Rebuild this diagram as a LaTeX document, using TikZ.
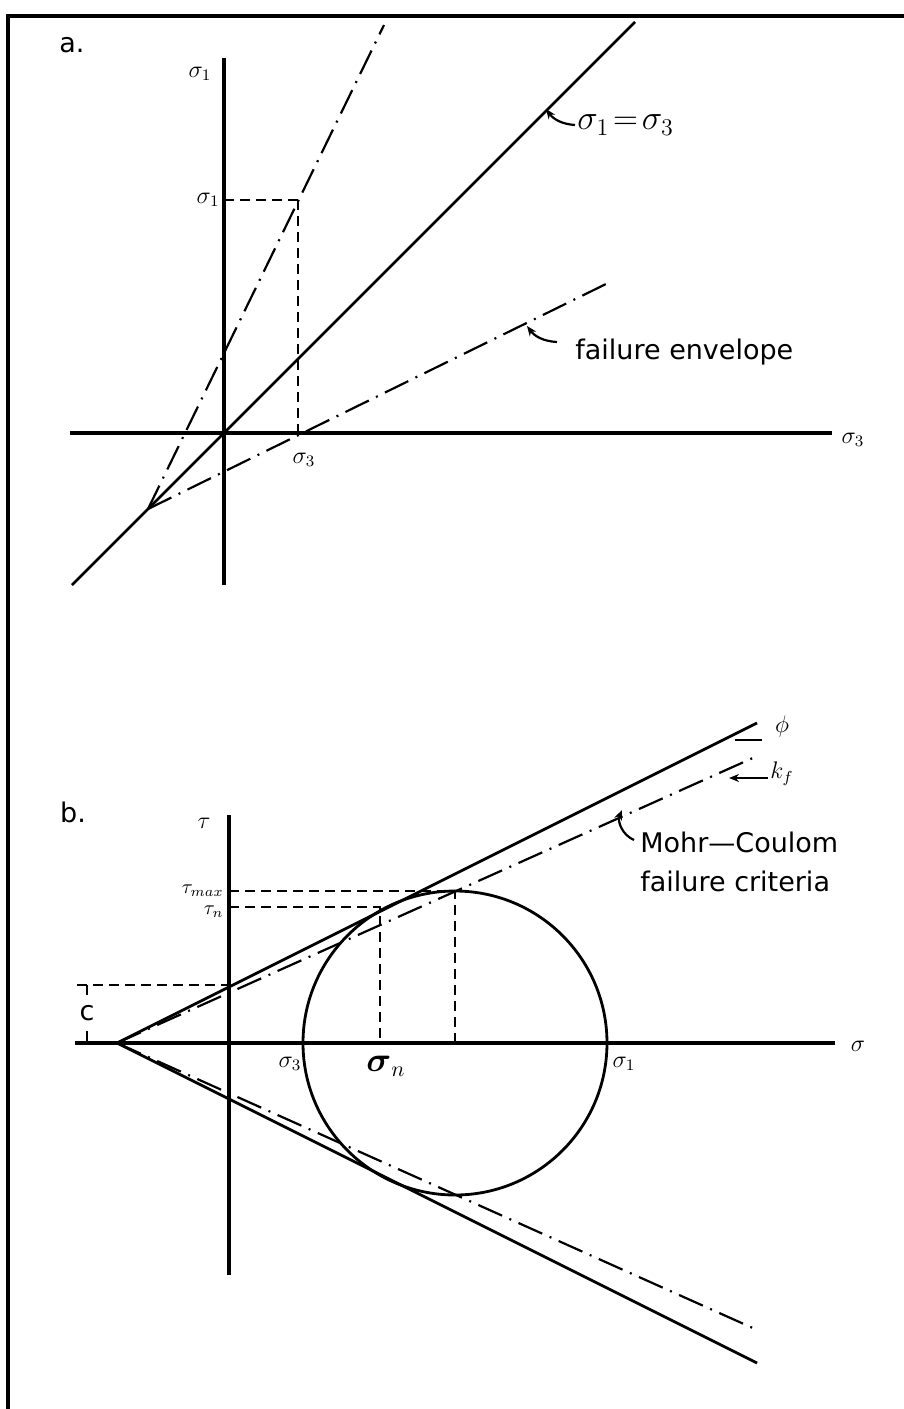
\documentclass[tikz,border=0pt]{standalone}
\usepackage{fontspec}
\setmainfont{DejaVu Sans}
\usepackage{amsmath,amssymb}
\usetikzlibrary{arrows.meta,positioning,calc}
\tikzset{
  axisln/.style={line width=1.8pt},
  envln/.style={line width=1.4pt},
  chainln/.style={line width=1.1pt,dash pattern=on 13pt off 4pt on 1pt off 4pt},
  guideln/.style={line width=1.1pt,dash pattern=on 5pt off 3pt},
  lbl/.style={inner sep=1pt,font=\fontsize{13.5}{19.5}\selectfont},
  sym/.style={inner sep=1pt,font=\fontsize{12}{14}\selectfont},
  ptr/.style={-{Stealth[length=5pt,width=4pt]},line width=1.1pt},
}

\begin{document}
\begin{tikzpicture}[x=0.5pt,y=-0.5pt]
    \useasboundingbox (0,0) rectangle (904,1409);
    % frame
    \draw[line width=2pt] (8,1409) -- (8,16) -- (904,16);

    % ---------- a. ----------
    \node[lbl] (tagA) at (72,45) {a.};
    \coordinate (aO)   at (224,433);
    \coordinate (aTop) at (224,58);
    \coordinate (aBot) at (224,585);
    \coordinate (aL)   at (70,433);
    \coordinate (aR)   at (832,433);
    \coordinate (eqLo) at (72,585);
    \coordinate (eqHi) at (635,22);
    \coordinate (tip)  at (148,509);
    \coordinate (stHi) at (384,25);
    \coordinate (shHi) at (608,283);
    \coordinate (pk)   at (298,200);

    \draw[axisln] (aTop) -- (aBot);
    \draw[axisln] (aL) -- (aR);
    \draw[envln] (eqLo) -- (eqHi);
    \draw[chainln] (tip) -- (stHi);
    \draw[chainln] (tip) -- (shHi);
    \draw[guideln] (aO |- pk) -- (pk);
    \draw[guideln] (pk) -- (pk |- aO);

    \node[sym] (s1Ax) at (200,74) {$\sigma_1$};
    \node[sym] (s3Ax) at (853,440) {$\sigma_3$};
    \node[sym, left=1pt of aO |- pk] (s1Pk) {$\sigma_1$};
    \node[sym] (s3Pk) at (304,460) {$\sigma_3$};

    \node[anchor=west, inner sep=1pt, font=\fontsize{18}{20}\selectfont] (eqS) at (575,125) {$\sigma_1\!=\!\sigma_3$};
    \coordinate (eqTip) at (546,109);
    \draw[ptr] (eqS.west) to[bend left=25] (eqTip);

    \node[lbl, anchor=west] (envS) at (573,352) {failure envelope};
    \coordinate (envTip) at (527,326);
    \draw[ptr] ([xshift=-8pt,yshift=5pt]envS.west) to[bend left=25] (envTip);

    % ---------- b. ----------
    \node[lbl] (tagB) at (73,812) {b.};
    \coordinate (bTop) at (229,815);
    \coordinate (bBot) at (229,1275);
    \coordinate (bL)   at (75,1043);
    \coordinate (bR)   at (835,1043);
    \coordinate (apex) at (117,1043);
    \coordinate (ctr)  at (455,1043);
    \coordinate (phiHi) at (757,723);
    \coordinate (phiLo) at (757,1363);
    \coordinate (kfHi)  at (755,757);
    \coordinate (kfLo)  at (755,1329);
    \coordinate (tmax)  at (455,891);
    \coordinate (tn)    at (380,907);
    \coordinate (cTop)  at (77,985);

    \draw[axisln] (bTop) -- (bBot);
    \draw[axisln] (bL) -- (bR);
    \draw[envln] (ctr) circle[radius=152];
    \draw[envln] (apex) -- (phiHi);
    \draw[envln] (apex) -- (phiLo);
    \draw[chainln] (apex) -- (kfHi);
    \draw[chainln] (apex) -- (kfLo);

    \draw[guideln] (bTop |- tmax) -- (tmax) -- (tmax |- ctr);
    \draw[guideln] (bTop |- tn) -- (tn) -- (tn |- ctr);
    \draw[guideln] (cTop) -- (cTop -| bTop);
    \draw[envln] (87,985) -- (87,995);
    \draw[envln] (87,1031) -- (87,1043);

    \node[sym] (tauAx) at (204,823) {$\tau$};
    \node[sym] (sgAx) at (858,1046) {$\sigma$};
    \node[sym, anchor=east, font=\fontsize{10}{12}\selectfont] (tmaxS) at (226,891) {$\tau_{max}$};
    \node[sym, anchor=east, font=\fontsize{10}{12}\selectfont] (tnS) at (226,912) {$\tau_n$};
    \node[lbl] (cS) at (87,1013) {c};
    \node[sym] (s3B) at (290,1064) {$\sigma_3$};
    \node[sym, font=\fontsize{16}{18}\selectfont] (snB) at (386,1066) {$\boldsymbol{\sigma}_n$};
    \node[sym] (s1B) at (624,1064) {$\sigma_1$};

    % phi and k_f marks
    \draw[envln] (735,740) -- (762,740);
    \node[sym] (phiS) at (782,726) {$\phi$};
    \coordinate (kfTip) at (729,778);
    \node[sym, anchor=west] (kfS) at (768,774) {$k_f$};
    \draw[ptr] (kfS.west |- kfTip) -- (kfTip);

    \node[lbl, anchor=west, align=left] (mcS) at (638,862) {Mohr---Coulom\\failure criteria};
    \coordinate (mcTip) at (622,810);
    \draw[ptr] (634,840) to[bend left=45] (mcTip);
\end{tikzpicture}
\end{document}
